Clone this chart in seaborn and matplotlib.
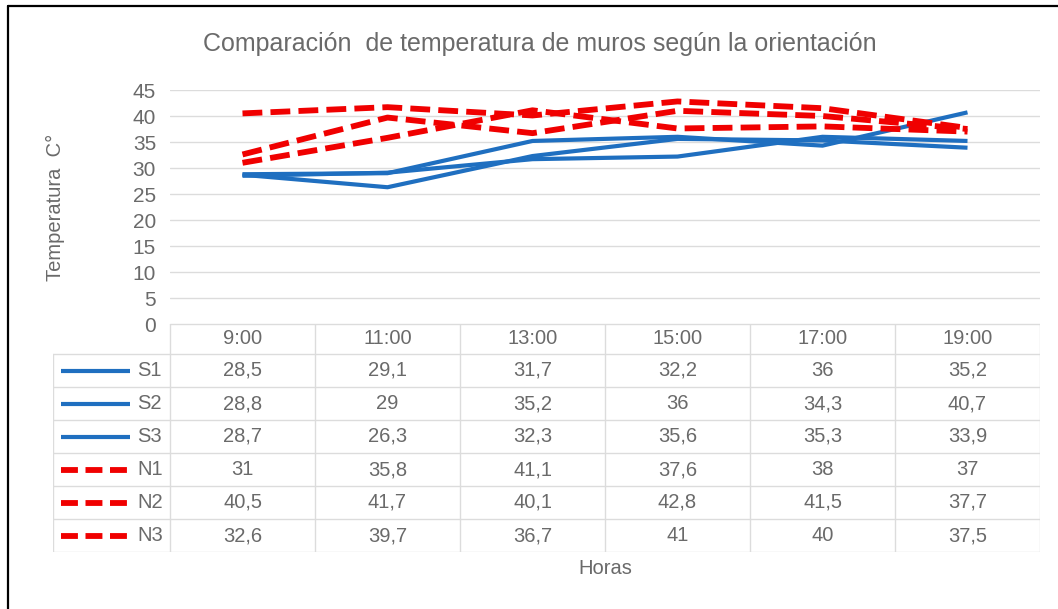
#!/usr/bin/env python3

import pandas as pd
import seaborn as sns
from matplotlib import pyplot as plt
from matplotlib.lines import Line2D

# datos
horas = ['9:00', '11:00', '13:00', '15:00', '17:00', '19:00']
series = ['S1', 'S2', 'S3', 'N1', 'N2', 'N3']
s1 = [28.5, 29.1, 31.7, 32.2, 36, 35.2]
s2 = [28.8, 29, 35.2, 36, 34.3, 40.7]
s3 = [28.7, 26.3, 32.3, 35.6, 35.3, 33.9]
n1 = [31, 35.8, 41.1, 37.6, 38, 37]
n2 = [40.5, 41.7, 40.1, 42.8, 41.5, 37.7]
n3 = [32.6, 39.7, 36.7, 41, 40, 37.5]
yticks = list(range(0, 50, 5))

valores = [s1, s2, s3, n1, n2, n3]

rows = []
for name, vals in zip(series, valores):
    for h, v in zip(horas, vals):
        rows.append({'hora': h, 'temp': v, 'serie': name})
df = pd.DataFrame(rows)

blue = '#1f6fc0'
red = '#f00000'
gray = '#6a6a6a'
grid = '#dcdcdc'
palette = {s: (blue if s.startswith('S') else red) for s in series}
dashes = {s: ('' if s.startswith('S') else (3.4, 1.4)) for s in series}
lw_s, lw_n = 3.0, 4.2

sns.set_style('white')
plt.rcParams['font.family'] = ['Liberation Sans', 'DejaVu Sans']

W, H = 1058, 609
fig = plt.figure(figsize=(W / 100, H / 100), dpi=100)

# pixel helpers
def fx(px):
    return px / W

def fy(py):
    return 1 - py / H

left, right, top0, bot0 = 170, 1040, 90, 324
ax = fig.add_axes([fx(left), fy(bot0), fx(right - left), fy(top0) - fy(bot0)])

for s in series:
    sub = df[df['serie'] == s]
    sns.lineplot(data=sub, x='hora', y='temp', color=palette[s], ax=ax,
                 linewidth=lw_s if s.startswith('S') else lw_n,
                 sort=False, legend=False, zorder=3)
    ln = ax.lines[-1]
    if dashes[s]:
        ln.set_linestyle('--')
        ln.set_dashes(dashes[s])
    ln.set_solid_capstyle('butt')
    ln.set_dash_capstyle('butt')

ax.set_xlim(-0.5, len(horas) - 0.5)
ax.set_ylim(0, 45)
ax.set_yticks(yticks)
ax.set_xticks([])
ax.set_xlabel('')
ax.set_ylabel('')
ax.grid(axis='y', color=grid, lw=1)
ax.set_axisbelow(True)
for sp in ax.spines.values():
    sp.set_visible(False)
ax.tick_params(axis='y', length=0, pad=10, labelsize=15, labelcolor=gray)

# tabla de datos
tleft, tbot = 53, 552
tab = fig.add_axes([fx(tleft), fy(tbot), fx(right - tleft), fy(bot0) - fy(tbot)])
col_w = (right - left) / len(horas)
x0 = -0.5 - (left - tleft) / col_w
tab.set_xlim(x0, len(horas) - 0.5)
hdr, rh = 30, 33
tab.set_ylim(hdr + rh * len(series), 0)
tab.axis('off')

tab.plot([-0.5, len(horas) - 0.5], [0, 0], color=grid, lw=1)
for k in range(len(series) + 1):
    tab.plot([x0, len(horas) - 0.5], [hdr + rh * k] * 2, color=grid, lw=1)
tab.plot([x0, x0], [hdr, hdr + rh * len(series)], color=grid, lw=1)
for i in range(len(horas) + 1):
    tab.plot([i - 0.5] * 2, [0, hdr + rh * len(series)], color=grid, lw=1)

for i, h in enumerate(horas):
    tab.text(i, hdr / 2, h, ha='center', va='center', fontsize=14.5, color=gray)

for k, (name, vals) in enumerate(zip(series, valores)):
    yc = hdr + rh * k + rh / 2
    for i, v in enumerate(vals):
        txt = f'{v:g}'.replace('.', ',')
        tab.text(i, yc, txt, ha='center', va='center', fontsize=14.5, color=gray)
    k0 = x0 + 8 / col_w
    k1 = x0 + 77 / col_w
    if name.startswith('S'):
        tab.plot([k0, k1], [yc, yc], color=blue, lw=lw_s, solid_capstyle='butt')
    else:
        ln, = tab.plot([k0, k1], [yc, yc], color=red, lw=lw_n, ls='--',
                       dash_capstyle='butt')
        ln.set_dashes((2.9, 1.3))
    tab.text(x0 + 84 / col_w, yc, name, ha='left', va='center', fontsize=14.5, color=gray)

# textos
fig.text(fx(540), fy(44), 'Comparación  de temperatura de muros según la orientación',
         ha='center', va='center', fontsize=18, color=gray)
fig.text(fx(55), fy(207), 'Temperatura  C°', rotation=90, ha='center', va='center',
         fontsize=14.5, color=gray)
fig.text(fx(605), fy(568), 'Horas', ha='center', va='center', fontsize=14.5, color=gray)

# borde
fig.add_artist(Line2D([fx(8), fx(8)], [0, fy(6)], color='black', lw=1.6,
                      transform=fig.transFigure))
fig.add_artist(Line2D([fx(8), 1], [fy(6), fy(6)], color='black', lw=1.6,
                      transform=fig.transFigure))

fig.savefig('out.png', dpi=100)
